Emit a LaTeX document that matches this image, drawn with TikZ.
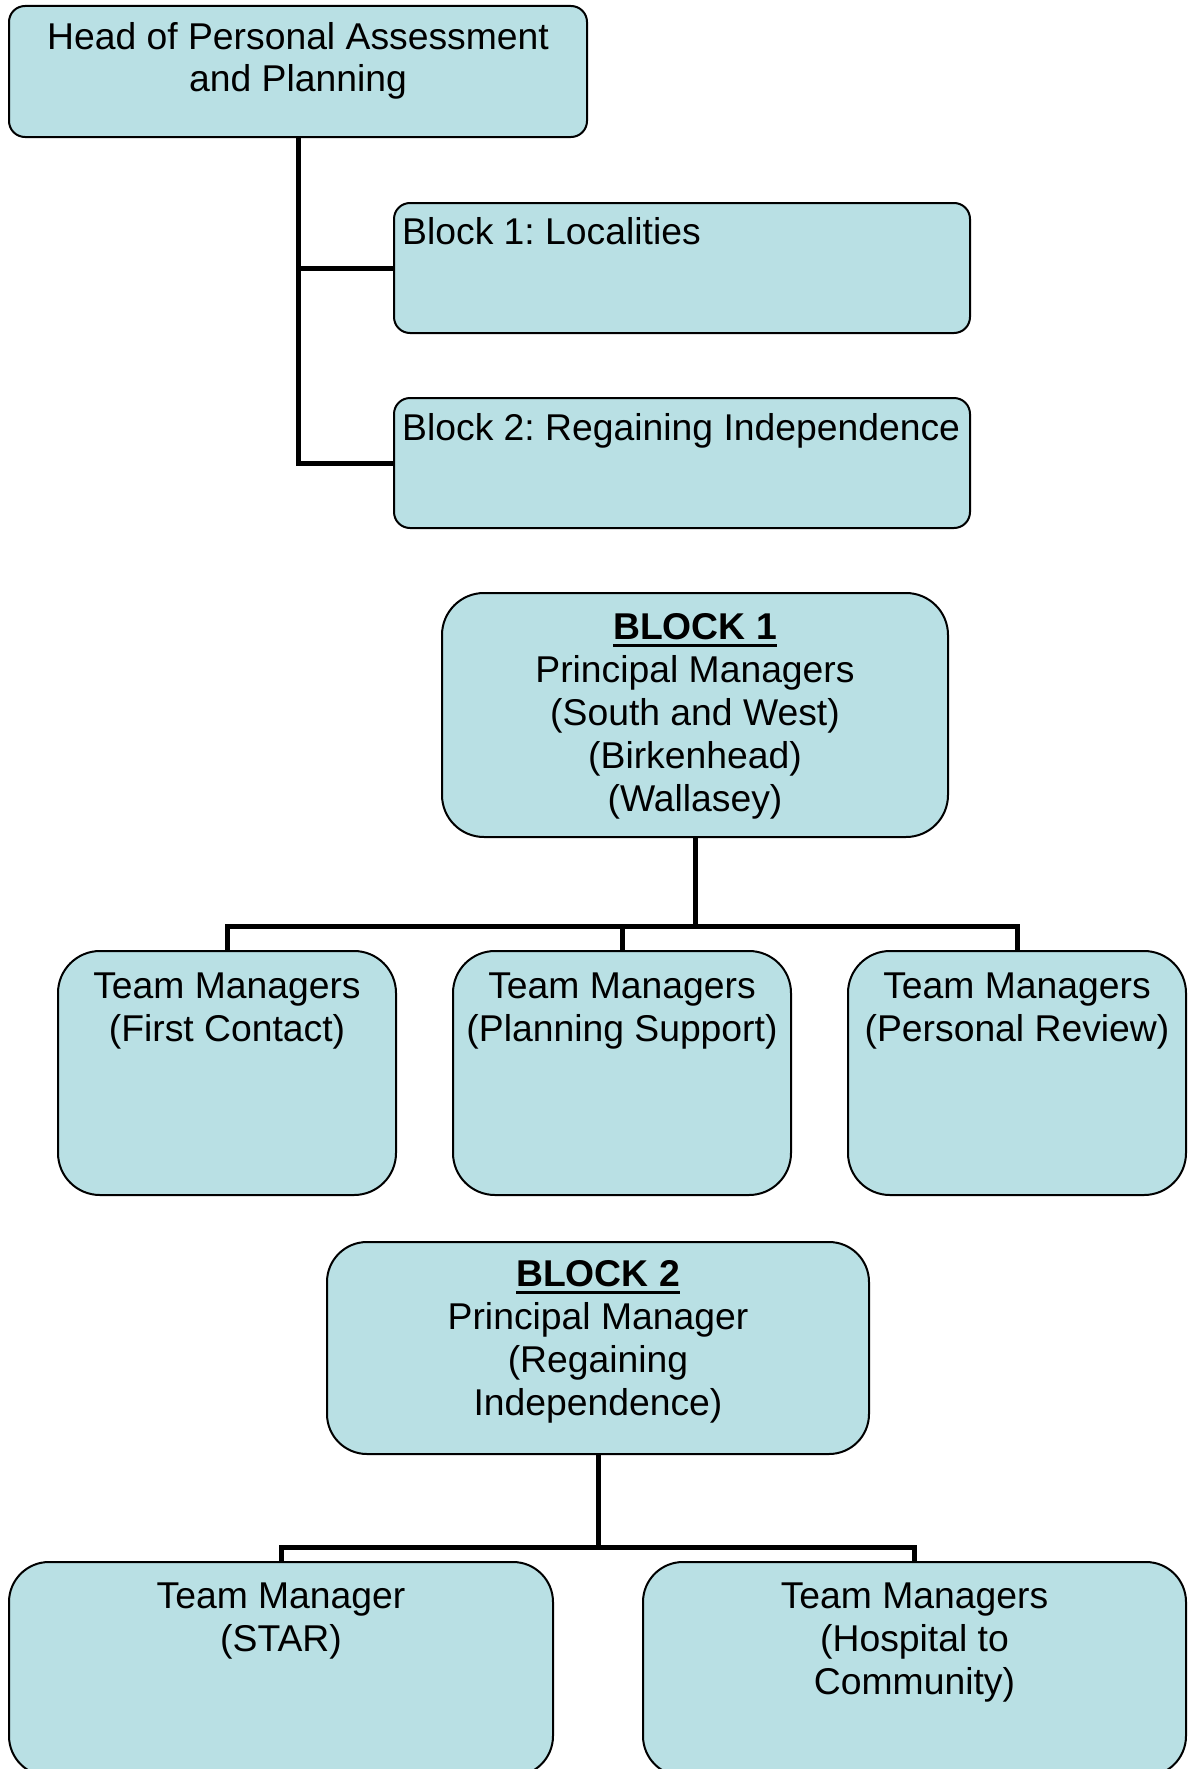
\documentclass[tikz,border=0pt]{standalone}
\usepackage{fontspec}
\setmainfont{Liberation Sans}
\definecolor{boxblue}{RGB}{185,224,228}
% underline drawn as a rule below the baseline
\newcommand\ulbox[1]{\setbox0\hbox{#1}\rlap{\vrule height -4.5pt depth 8pt width \wd0}\box0}
\begin{document}
\begin{tikzpicture}[x=1pt,y=-1pt,
  box/.style={draw=black, line width=2pt, fill=boxblue, rounded corners=#1, inner sep=0pt},
  box/.default=16pt,
  conn/.style={draw=black, line width=5pt},
  % text nodes are placed by the baseline of their last line
  lbl/.style={font=\fontsize{37.3}{43}\selectfont\frenchspacing, align=center, anchor=base, inner sep=0pt},
  lblw/.style={lbl, align=left, anchor=base west}]
\useasboundingbox (0,0) rectangle (1193,1769);
\clip (0,0) rectangle (1193,1769);

% boxes
\node[box, minimum width=578pt, minimum height=131pt] (head) at (298,71.5) {};
\node[box, minimum width=576pt, minimum height=130pt] (blkA) at (682,268) {};
\node[box, minimum width=576pt, minimum height=130pt] (blkB) at (682,463) {};
\node[box=42pt, minimum width=506pt, minimum height=244pt] (bone) at (695,715) {};
\node[box=42pt, minimum width=338pt, minimum height=244pt] (team1) at (227,1073) {};
\node[box=42pt, minimum width=338pt, minimum height=244pt] (team2) at (622,1073) {};
\node[box=42pt, minimum width=338pt, minimum height=244pt] (team3) at (1017,1073) {};
\node[box=40pt, minimum width=542pt, minimum height=212pt] (btwo) at (598,1348) {};
\node[box=40pt, minimum width=544pt, minimum height=214pt] (star) at (281,1669) {};
\node[box=40pt, minimum width=543pt, minimum height=214pt] (htc) at (914.5,1669) {};

% connectors
\draw[conn] (head.south) |- (blkA.west);
\draw[conn] (head.south) |- (blkB.west);

\coordinate (busA) at (695,926.5);
\draw[conn] (bone.south) -- (busA);
\draw[conn] (busA) -| (team1.north);
\draw[conn] (busA) -| (team2.north);
\draw[conn] (busA) -| (team3.north);

\coordinate (busB) at (598,1547.5);
\draw[conn] (btwo.south) -- (busB);
\draw[conn] (busB) -| (star.north);
\draw[conn] (busB) -| (htc.north);

% texts
\node[lbl] (headT) at (298,92) {Head of Personal Assessment\\and Planning};
\node[lblw] (blkAT) at (402,244) {Block 1: Localities};
\node[lblw] (blkBT) at (402,440) {Block 2: Regaining Independence};
\node[lbl] (boneT) at (695,811) {\ulbox{\bfseries BLOCK 1}\\Principal Managers\\(South and West)\\(Birkenhead)\\(Wallasey)};
\node[lbl] (team1T) at (227,1041) {Team Managers\\(First Contact)};
\node[lbl] (team2T) at (622,1041) {Team Managers\\(Planning Support)};
\node[lbl] (team3T) at (1017,1041) {Team Managers\\(Personal Review)};
\node[lbl] (btwoT) at (598,1415) {\ulbox{\bfseries BLOCK 2}\\Principal Manager\\(Regaining\\Independence)};
\node[lbl] (starT) at (281,1651) {Team Manager\\(STAR)};
\node[lbl] (htcT) at (914.5,1694) {Team Managers\\(Hospital to\\Community)};
\end{tikzpicture}
\end{document}
